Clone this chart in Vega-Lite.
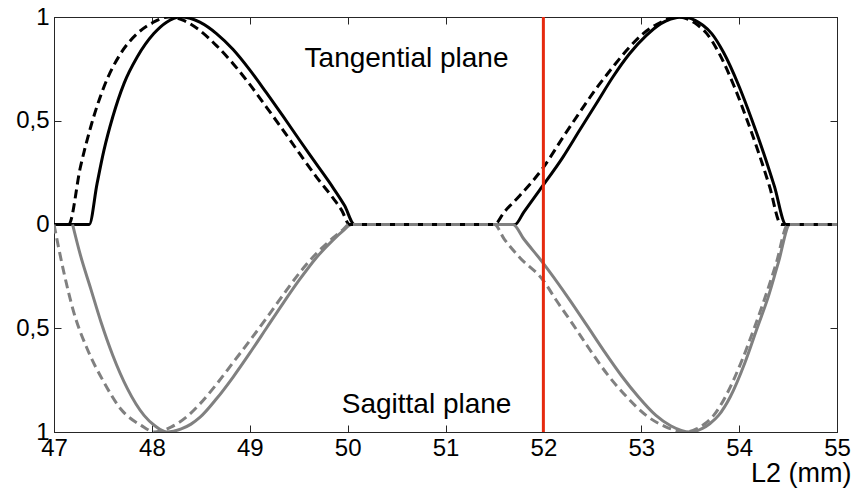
{
  "$schema": "https://vega.github.io/schema/vega-lite/v6.json",
  "width": 783,
  "height": 415,
  "autosize": {"type": "none"},
  "padding": {"left": 54, "top": 17, "right": 21, "bottom": 60},
  "background": "white",
  "config": {
    "font": "Liberation Sans",
    "view": {"stroke": "#262626", "strokeWidth": 1},
    "axis": {
      "grid": false,
      "domainColor": "#262626",
      "domainWidth": 1,
      "tickColor": "#262626",
      "tickWidth": 1,
      "tickSize": -7,
      "labelPadding": 11,
      "labelFont": "Liberation Sans",
      "labelFontSize": 24,
      "labelColor": "#000000",
      "labelFlush": false,
      "labelOverlap": false,
      "titleFont": "Liberation Sans",
      "titleFontWeight": "normal",
      "titleColor": "#000000"
    }
  },
  "datasets": {
    "curves": [
      {"L2": 47, "v": 0, "series": "T_solid"},
      {"L2": 47.36, "v": 0, "series": "T_solid"},
      {"L2": 47.44, "v": 0.197, "series": "T_solid"},
      {"L2": 47.51, "v": 0.357, "series": "T_solid"},
      {"L2": 47.6, "v": 0.518, "series": "T_solid"},
      {"L2": 47.715, "v": 0.679, "series": "T_solid"},
      {"L2": 47.85, "v": 0.807, "series": "T_solid"},
      {"L2": 48.02, "v": 0.92, "series": "T_solid"},
      {"L2": 48.15, "v": 0.975, "series": "T_solid"},
      {"L2": 48.29, "v": 1.0, "series": "T_solid"},
      {"L2": 48.39, "v": 0.994, "series": "T_solid"},
      {"L2": 48.49, "v": 0.975, "series": "T_solid"},
      {"L2": 48.66, "v": 0.92, "series": "T_solid"},
      {"L2": 48.83, "v": 0.843, "series": "T_solid"},
      {"L2": 49.0, "v": 0.745, "series": "T_solid"},
      {"L2": 49.17, "v": 0.635, "series": "T_solid"},
      {"L2": 49.34, "v": 0.522, "series": "T_solid"},
      {"L2": 49.51, "v": 0.406, "series": "T_solid"},
      {"L2": 49.68, "v": 0.292, "series": "T_solid"},
      {"L2": 49.85, "v": 0.178, "series": "T_solid"},
      {"L2": 49.97, "v": 0.09, "series": "T_solid"},
      {"L2": 50.07, "v": 0, "series": "T_solid"},
      {"L2": 51.71, "v": 0, "series": "T_solid"},
      {"L2": 51.8, "v": 0.06, "series": "T_solid"},
      {"L2": 51.96, "v": 0.165, "series": "T_solid"},
      {"L2": 52.2, "v": 0.325, "series": "T_solid"},
      {"L2": 52.37, "v": 0.454, "series": "T_solid"},
      {"L2": 52.54, "v": 0.582, "series": "T_solid"},
      {"L2": 52.71, "v": 0.711, "series": "T_solid"},
      {"L2": 52.88, "v": 0.823, "series": "T_solid"},
      {"L2": 53.05, "v": 0.91, "series": "T_solid"},
      {"L2": 53.2, "v": 0.968, "series": "T_solid"},
      {"L2": 53.3, "v": 0.99, "series": "T_solid"},
      {"L2": 53.43, "v": 1.0, "series": "T_solid"},
      {"L2": 53.55, "v": 0.984, "series": "T_solid"},
      {"L2": 53.63, "v": 0.96, "series": "T_solid"},
      {"L2": 53.72, "v": 0.92, "series": "T_solid"},
      {"L2": 53.84, "v": 0.83, "series": "T_solid"},
      {"L2": 54.0, "v": 0.665, "series": "T_solid"},
      {"L2": 54.13, "v": 0.505, "series": "T_solid"},
      {"L2": 54.25, "v": 0.345, "series": "T_solid"},
      {"L2": 54.36, "v": 0.185, "series": "T_solid"},
      {"L2": 54.48, "v": 0, "series": "T_solid"},
      {"L2": 55, "v": 0, "series": "T_solid"},

      {"L2": 47, "v": 0, "series": "T_dashed"},
      {"L2": 47.15, "v": 0, "series": "T_dashed"},
      {"L2": 47.27, "v": 0.277, "series": "T_dashed"},
      {"L2": 47.375, "v": 0.47, "series": "T_dashed"},
      {"L2": 47.51, "v": 0.663, "series": "T_dashed"},
      {"L2": 47.68, "v": 0.823, "series": "T_dashed"},
      {"L2": 47.85, "v": 0.92, "series": "T_dashed"},
      {"L2": 48.02, "v": 0.976, "series": "T_dashed"},
      {"L2": 48.17, "v": 1.0, "series": "T_dashed"},
      {"L2": 48.33, "v": 0.982, "series": "T_dashed"},
      {"L2": 48.49, "v": 0.935, "series": "T_dashed"},
      {"L2": 48.66, "v": 0.862, "series": "T_dashed"},
      {"L2": 48.83, "v": 0.775, "series": "T_dashed"},
      {"L2": 49.0, "v": 0.675, "series": "T_dashed"},
      {"L2": 49.17, "v": 0.566, "series": "T_dashed"},
      {"L2": 49.34, "v": 0.455, "series": "T_dashed"},
      {"L2": 49.51, "v": 0.341, "series": "T_dashed"},
      {"L2": 49.68, "v": 0.23, "series": "T_dashed"},
      {"L2": 49.85, "v": 0.128, "series": "T_dashed"},
      {"L2": 49.94, "v": 0.068, "series": "T_dashed"},
      {"L2": 50.02, "v": 0, "series": "T_dashed"},
      {"L2": 51.5, "v": 0, "series": "T_dashed"},
      {"L2": 51.6, "v": 0.06, "series": "T_dashed"},
      {"L2": 51.76, "v": 0.14, "series": "T_dashed"},
      {"L2": 52.0, "v": 0.275, "series": "T_dashed"},
      {"L2": 52.2, "v": 0.42, "series": "T_dashed"},
      {"L2": 52.37, "v": 0.54, "series": "T_dashed"},
      {"L2": 52.54, "v": 0.655, "series": "T_dashed"},
      {"L2": 52.71, "v": 0.759, "series": "T_dashed"},
      {"L2": 52.88, "v": 0.855, "series": "T_dashed"},
      {"L2": 53.02, "v": 0.92, "series": "T_dashed"},
      {"L2": 53.16, "v": 0.965, "series": "T_dashed"},
      {"L2": 53.38, "v": 1.0, "series": "T_dashed"},
      {"L2": 53.5, "v": 0.984, "series": "T_dashed"},
      {"L2": 53.58, "v": 0.96, "series": "T_dashed"},
      {"L2": 53.67, "v": 0.92, "series": "T_dashed"},
      {"L2": 53.79, "v": 0.83, "series": "T_dashed"},
      {"L2": 53.95, "v": 0.665, "series": "T_dashed"},
      {"L2": 54.08, "v": 0.505, "series": "T_dashed"},
      {"L2": 54.2, "v": 0.345, "series": "T_dashed"},
      {"L2": 54.31, "v": 0.185, "series": "T_dashed"},
      {"L2": 54.43, "v": 0, "series": "T_dashed"},
      {"L2": 55, "v": 0, "series": "T_dashed"},

      {"L2": 47.19, "v": 0, "series": "S_solid"},
      {"L2": 47.27, "v": -0.148, "series": "S_solid"},
      {"L2": 47.375, "v": -0.309, "series": "S_solid"},
      {"L2": 47.48, "v": -0.47, "series": "S_solid"},
      {"L2": 47.6, "v": -0.63, "series": "S_solid"},
      {"L2": 47.75, "v": -0.791, "series": "S_solid"},
      {"L2": 47.92, "v": -0.92, "series": "S_solid"},
      {"L2": 48.03, "v": -0.97, "series": "S_solid"},
      {"L2": 48.15, "v": -1.0, "series": "S_solid"},
      {"L2": 48.3, "v": -0.985, "series": "S_solid"},
      {"L2": 48.4, "v": -0.962, "series": "S_solid"},
      {"L2": 48.49, "v": -0.93, "series": "S_solid"},
      {"L2": 48.66, "v": -0.84, "series": "S_solid"},
      {"L2": 48.83, "v": -0.735, "series": "S_solid"},
      {"L2": 49.0, "v": -0.62, "series": "S_solid"},
      {"L2": 49.17, "v": -0.5, "series": "S_solid"},
      {"L2": 49.34, "v": -0.38, "series": "S_solid"},
      {"L2": 49.51, "v": -0.265, "series": "S_solid"},
      {"L2": 49.68, "v": -0.16, "series": "S_solid"},
      {"L2": 49.85, "v": -0.075, "series": "S_solid"},
      {"L2": 49.95, "v": -0.032, "series": "S_solid"},
      {"L2": 50.04, "v": 0, "series": "S_solid"},
      {"L2": 51.69, "v": 0, "series": "S_solid"},
      {"L2": 51.8, "v": -0.07, "series": "S_solid"},
      {"L2": 51.98, "v": -0.175, "series": "S_solid"},
      {"L2": 52.27, "v": -0.364, "series": "S_solid"},
      {"L2": 52.45, "v": -0.49, "series": "S_solid"},
      {"L2": 52.62, "v": -0.61, "series": "S_solid"},
      {"L2": 52.8, "v": -0.73, "series": "S_solid"},
      {"L2": 52.97, "v": -0.83, "series": "S_solid"},
      {"L2": 53.15, "v": -0.92, "series": "S_solid"},
      {"L2": 53.3, "v": -0.97, "series": "S_solid"},
      {"L2": 53.5, "v": -1.0, "series": "S_solid"},
      {"L2": 53.62, "v": -0.984, "series": "S_solid"},
      {"L2": 53.7, "v": -0.96, "series": "S_solid"},
      {"L2": 53.79, "v": -0.92, "series": "S_solid"},
      {"L2": 53.91, "v": -0.83, "series": "S_solid"},
      {"L2": 54.06, "v": -0.665, "series": "S_solid"},
      {"L2": 54.18, "v": -0.505, "series": "S_solid"},
      {"L2": 54.3, "v": -0.345, "series": "S_solid"},
      {"L2": 54.4, "v": -0.185, "series": "S_solid"},
      {"L2": 54.52, "v": 0, "series": "S_solid"},
      {"L2": 55, "v": 0, "series": "S_solid"},

      {"L2": 47.0, "v": 0, "series": "S_dashed"},
      {"L2": 47.1, "v": -0.229, "series": "S_dashed"},
      {"L2": 47.2, "v": -0.42, "series": "S_dashed"},
      {"L2": 47.34, "v": -0.6, "series": "S_dashed"},
      {"L2": 47.51, "v": -0.76, "series": "S_dashed"},
      {"L2": 47.68, "v": -0.888, "series": "S_dashed"},
      {"L2": 47.89, "v": -0.968, "series": "S_dashed"},
      {"L2": 48.03, "v": -1.0, "series": "S_dashed"},
      {"L2": 48.2, "v": -0.975, "series": "S_dashed"},
      {"L2": 48.36, "v": -0.925, "series": "S_dashed"},
      {"L2": 48.49, "v": -0.865, "series": "S_dashed"},
      {"L2": 48.66, "v": -0.77, "series": "S_dashed"},
      {"L2": 48.83, "v": -0.665, "series": "S_dashed"},
      {"L2": 49.0, "v": -0.56, "series": "S_dashed"},
      {"L2": 49.17, "v": -0.452, "series": "S_dashed"},
      {"L2": 49.34, "v": -0.34, "series": "S_dashed"},
      {"L2": 49.51, "v": -0.232, "series": "S_dashed"},
      {"L2": 49.68, "v": -0.14, "series": "S_dashed"},
      {"L2": 49.85, "v": -0.065, "series": "S_dashed"},
      {"L2": 49.94, "v": -0.03, "series": "S_dashed"},
      {"L2": 50.02, "v": 0, "series": "S_dashed"},
      {"L2": 51.5, "v": 0, "series": "S_dashed"},
      {"L2": 51.6, "v": -0.07, "series": "S_dashed"},
      {"L2": 51.76, "v": -0.16, "series": "S_dashed"},
      {"L2": 52.0, "v": -0.27, "series": "S_dashed"},
      {"L2": 52.13, "v": -0.364, "series": "S_dashed"},
      {"L2": 52.3, "v": -0.48, "series": "S_dashed"},
      {"L2": 52.47, "v": -0.6, "series": "S_dashed"},
      {"L2": 52.65, "v": -0.72, "series": "S_dashed"},
      {"L2": 52.85, "v": -0.83, "series": "S_dashed"},
      {"L2": 53.05, "v": -0.92, "series": "S_dashed"},
      {"L2": 53.25, "v": -0.975, "series": "S_dashed"},
      {"L2": 53.45, "v": -1.0, "series": "S_dashed"},
      {"L2": 53.57, "v": -0.984, "series": "S_dashed"},
      {"L2": 53.65, "v": -0.96, "series": "S_dashed"},
      {"L2": 53.74, "v": -0.92, "series": "S_dashed"},
      {"L2": 53.86, "v": -0.83, "series": "S_dashed"},
      {"L2": 54.02, "v": -0.665, "series": "S_dashed"},
      {"L2": 54.15, "v": -0.505, "series": "S_dashed"},
      {"L2": 54.27, "v": -0.345, "series": "S_dashed"},
      {"L2": 54.38, "v": -0.185, "series": "S_dashed"},
      {"L2": 54.5, "v": 0, "series": "S_dashed"},
      {"L2": 55, "v": 0, "series": "S_dashed"}
    ],
    "marker": [{"L2": 52}],
    "labels": [
      {"L2": 49.56, "v": 0.759, "text": "Tangential plane"},
      {"L2": 49.94, "v": -0.908, "text": "Sagittal plane"}
    ]
  },
  "resolve": {"axis": {"x": "independent", "y": "independent"}},
  "layer": [
    {
      "data": {"name": "curves"},
      "transform": [{"filter": "datum.series === 'T_solid'"}],
      "mark": {"type": "line", "color": "#000000", "strokeWidth": 3, "interpolate": "monotone", "clip": true},
      "encoding": {
        "x": {"field": "L2", "type": "quantitative", "scale": {"domain": [47, 55], "nice": false, "zero": false},
          "axis": {"orient": "bottom", "values": [47, 48, 49, 50, 51, 52, 53, 54, 55], "format": "d",
            "title": "L2 (mm)", "titleFontSize": 27, "titleAlign": "right", "titleAnchor": "end",
            "titleX": 797, "titleY": 49, "titleBaseline": "alphabetic", "labelPadding": 11}},
        "y": {"field": "v", "type": "quantitative", "scale": {"domain": [-1, 1], "nice": false, "zero": false},
          "axis": {"orient": "left", "values": [-1, -0.5, 0, 0.5, 1], "title": null, "labelPadding": 12,
            "labelExpr": "datum.value == 0 ? '0' : (abs(datum.value) == 1 ? '1' : '0,5')"}}
      }
    },
    {
      "data": {"name": "curves"},
      "transform": [{"filter": "datum.series === 'S_solid'"}],
      "mark": {"type": "line", "color": "#808080", "strokeWidth": 3, "interpolate": "monotone", "clip": true},
      "encoding": {
        "x": {"field": "L2", "type": "quantitative", "scale": {"domain": [47, 55], "nice": false, "zero": false}, "axis": null},
        "y": {"field": "v", "type": "quantitative", "scale": {"domain": [-1, 1], "nice": false, "zero": false}, "axis": null}
      }
    },
    {
      "data": {"name": "curves"},
      "transform": [{"filter": "datum.series === 'T_dashed'"}],
      "mark": {"type": "line", "color": "#000000", "strokeWidth": 3, "strokeDash": [9, 5], "interpolate": "monotone", "clip": true},
      "encoding": {
        "x": {"field": "L2", "type": "quantitative", "scale": {"domain": [47, 55], "nice": false, "zero": false}, "axis": null},
        "y": {"field": "v", "type": "quantitative", "scale": {"domain": [-1, 1], "nice": false, "zero": false}, "axis": null}
      }
    },
    {
      "data": {"name": "curves"},
      "transform": [{"filter": "datum.series === 'S_dashed'"}],
      "mark": {"type": "line", "color": "#808080", "strokeWidth": 3, "strokeDash": [9, 5], "interpolate": "monotone", "clip": true},
      "encoding": {
        "x": {"field": "L2", "type": "quantitative", "scale": {"domain": [47, 55], "nice": false, "zero": false}, "axis": null},
        "y": {"field": "v", "type": "quantitative", "scale": {"domain": [-1, 1], "nice": false, "zero": false}, "axis": null}
      }
    },
    {
      "data": {"name": "marker"},
      "mark": {"type": "rule", "color": "#e62a0e", "strokeWidth": 3},
      "encoding": {
        "x": {"field": "L2", "type": "quantitative", "scale": {"domain": [47, 55], "nice": false, "zero": false}, "axis": null}
      }
    },
    {
      "data": {"name": "labels"},
      "mark": {"type": "text", "align": "left", "baseline": "alphabetic", "fontSize": 28, "font": "Liberation Sans", "color": "#000000"},
      "encoding": {
        "x": {"field": "L2", "type": "quantitative", "scale": {"domain": [47, 55], "nice": false, "zero": false},
          "axis": {"orient": "top", "values": [47, 48, 49, 50, 51, 52, 53, 54, 55], "labels": false, "title": null}},
        "y": {"field": "v", "type": "quantitative", "scale": {"domain": [-1, 1], "nice": false, "zero": false},
          "axis": {"orient": "right", "values": [-1, -0.5, 0, 0.5, 1], "labels": false, "title": null}},
        "text": {"field": "text", "type": "nominal"}
      }
    }
  ]
}
